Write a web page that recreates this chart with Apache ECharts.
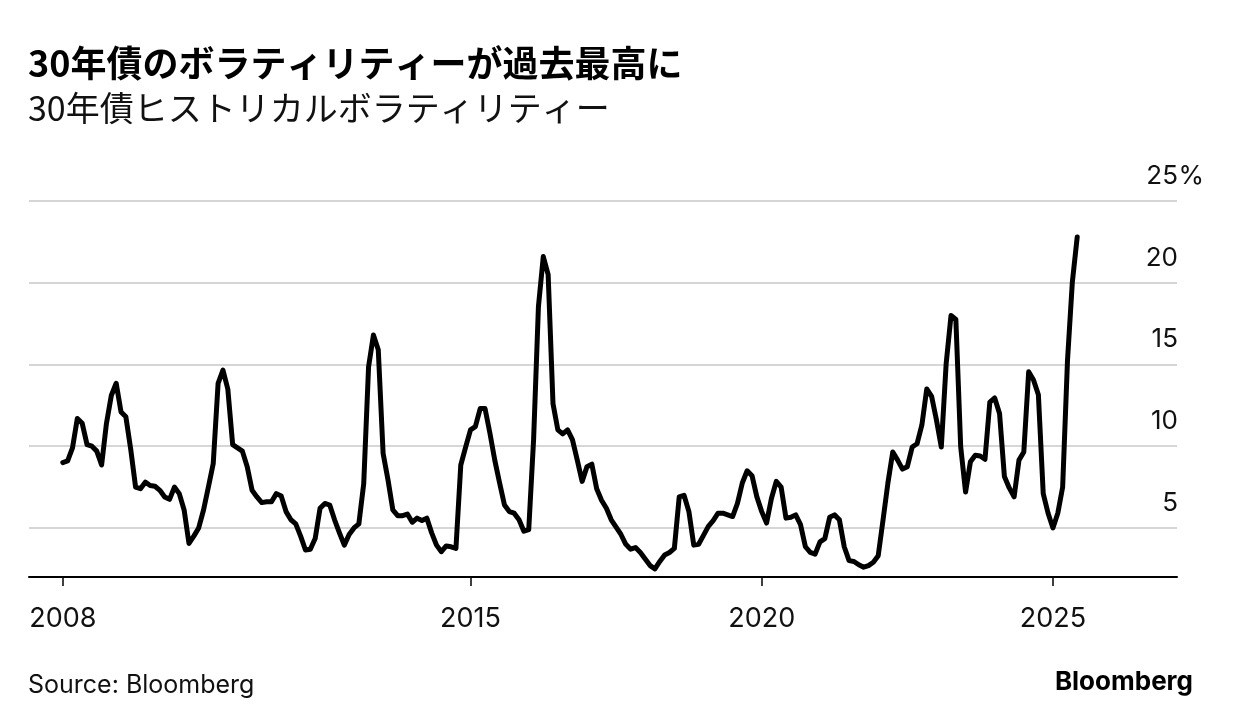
<!DOCTYPE html>
<html>
<head>
<meta charset="utf-8">
<script src="https://cdn.jsdelivr.net/npm/echarts@6.0.0/dist/echarts.min.js"></script>
<style>
html,body{margin:0;padding:0;background:#fff;}
#chart{width:1233px;height:726px;}
</style>
</head>
<body>
<div id="chart"></div>
<script>
// Monthly 30-year bond historical volatility (%), starting Jan 2008
const startYear = 2008;
const volatility = [
  9.0, 9.1, 9.9, 11.7, 11.4, 10.1, 10.0, 9.7, 8.85, 11.4,
  13.1, 13.85, 12.1, 11.8, 9.8, 7.5, 7.4, 7.8, 7.6, 7.55,
  7.3, 6.9, 6.75, 7.5, 7.1, 6.1, 4.05, 4.5, 5.0, 6.1,
  7.5, 8.95, 13.85, 14.65, 13.5, 10.1, 9.9, 9.7, 8.75, 7.3,
  6.9, 6.55, 6.6, 6.6, 7.1, 6.95, 6.0, 5.5, 5.25, 4.5,
  3.65, 3.7, 4.35, 6.2, 6.5, 6.4, 5.5, 4.7, 3.95, 4.6,
  5.0, 5.25, 7.7, 14.85, 16.8, 15.9, 9.55, 7.95, 6.1, 5.75,
  5.75, 5.85, 5.35, 5.6, 5.45, 5.6, 4.7, 3.95, 3.55, 3.9,
  3.85, 3.75, 8.85, 9.95, 11.0, 11.2, 12.3, 12.3, 10.8, 9.15,
  7.75, 6.4, 6.0, 5.9, 5.5, 4.8, 4.9, 10.4, 18.55, 21.6,
  20.5, 12.6, 11.0, 10.75, 11.0, 10.4, 9.15, 7.85, 8.75, 8.9,
  7.4, 6.7, 6.2, 5.5, 5.05, 4.6, 4.0, 3.7, 3.8, 3.5,
  3.1, 2.7, 2.5, 2.95, 3.35, 3.5, 3.75, 6.9, 7.0, 6.0,
  3.95, 4.0, 4.55, 5.1, 5.45, 5.9, 5.9, 5.8, 5.7, 6.5,
  7.75, 8.5, 8.2, 6.9, 6.0, 5.3, 6.8, 7.85, 7.5, 5.6,
  5.65, 5.8, 5.2, 3.85, 3.5, 3.4, 4.15, 4.35, 5.65, 5.8,
  5.5, 3.85, 3.0, 2.95, 2.75, 2.6, 2.7, 2.9, 3.3, 5.5,
  7.75, 9.65, 9.15, 8.6, 8.75, 9.95, 10.15, 11.3, 13.5, 13.05,
  11.6, 9.95, 15.05, 18.0, 17.75, 9.95, 7.2, 9.05, 9.45, 9.4,
  9.2, 12.7, 12.95, 12.0, 8.15, 7.45, 6.9, 9.15, 9.65, 14.55,
  14.05, 13.15, 7.1, 5.9, 5.0, 5.9, 7.5, 15.25, 20.05, 22.8
];
const xTickYears = [2008, 2015, 2020, 2025];
const yTickValues = [5, 10, 15, 20, 25];
const yUnitTick = [25];

const titleText = '30年債のボラティリティーが過去最高に';
const subtitleText = '30年債ヒストリカルボラティリティー';
const sourceText = 'Source: Bloomberg';
const brandText = 'Bloomberg';

// month positions expressed as decimal years
const seriesData = volatility.map((v, i) => [startYear + i / 12, v]);

const latin = 'Inter, "Noto Sans CJK JP", sans-serif';
const cjk = '"Noto Sans CJK JP", Inter, sans-serif';

const yLabelBase = {
  inside: true,
  verticalAlign: 'bottom',
  padding: [0, 0, 12, 0],
  fontFamily: latin, fontSize: 26, color: '#111'
};

const chart = echarts.init(document.getElementById('chart'), null, {renderer: 'canvas'});
chart.setOption({
  animation: false,
  backgroundColor: '#fff',
  title: [
    {text: titleText, left: 28, top: 45, padding: 0,
     textStyle: {fontFamily: cjk, fontSize: 36, fontWeight: 'bold', color: '#000'}},
    {text: subtitleText, left: 28, top: 91, padding: 0,
     textStyle: {fontFamily: cjk, fontSize: 34, fontWeight: 'normal', color: '#111'}},
    {text: sourceText, left: 28, top: 673, padding: 0,
     textStyle: {fontFamily: latin, fontSize: 25, fontWeight: 'normal', color: '#111'}},
    {text: brandText, right: 40, top: 669, padding: 0,
     textStyle: {fontFamily: latin, fontSize: 26, fontWeight: 'bold', color: '#000'}}
  ],
  grid: {left: 29, right: 56, top: 201, bottom: 149, containLabel: false},
  xAxis: {
    type: 'value',
    min: 2007.42,
    max: 2027.13,
    axisLine: {show: true, onZero: false, lineStyle: {color: '#000', width: 2}},
    axisTick: {show: true, customValues: xTickYears, length: 9, lineStyle: {color: '#000', width: 1.5}},
    axisLabel: {customValues: xTickYears, margin: 28, fontFamily: latin, fontSize: 27, color: '#111',
                formatter: v => String(Math.round(v))},
    splitLine: {show: false}
  },
  yAxis: [{
    type: 'value',
    position: 'right',
    min: 2,
    max: 25,
    axisLine: {show: false},
    axisTick: {show: false, customValues: yTickValues},
    axisLabel: Object.assign({customValues: yTickValues, margin: -1,
      formatter: v => String(v)}, yLabelBase),
    splitLine: {show: true, lineStyle: {color: '#d6d6d6', width: 2}}
  }, {
    // unit sign beside the top tick label
    type: 'value',
    position: 'right',
    min: 2,
    max: 25,
    axisLine: {show: false},
    axisTick: {show: false, customValues: yUnitTick},
    axisLabel: Object.assign({customValues: yUnitTick, margin: -27,
      formatter: () => '%'}, yLabelBase),
    splitLine: {show: false}
  }],
  series: [{
    type: 'line',
    data: seriesData,
    yAxisIndex: 0,
    showSymbol: false,
    symbol: 'none',
    lineStyle: {color: '#000', width: 5, join: 'round', cap: 'round'},
    z: 3
  }]
});
</script>
</body>
</html>
